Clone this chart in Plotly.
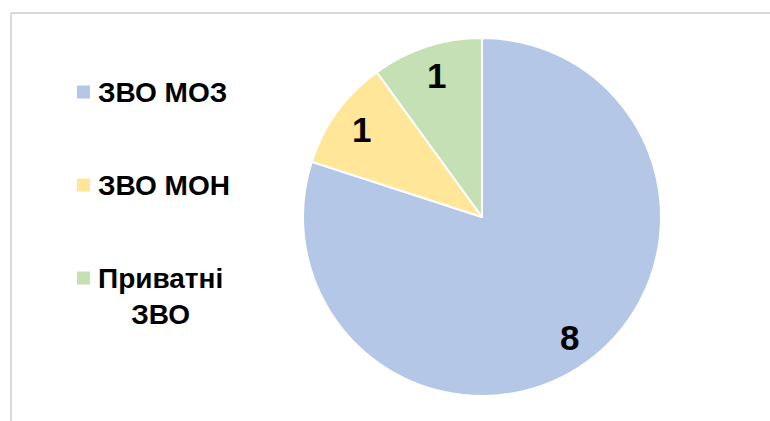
import math
import plotly.graph_objects as go

# ---- data ----
labels = ["ЗВО МОЗ", "ЗВО МОН", "Приватні ЗВО"]
legend_text = ["ЗВО МОЗ", "ЗВО МОН", "Приватні<br>ЗВО"]
values = [8, 1, 1]
colors = ["#B4C7E7", "#FFE699", "#C5E0B4"]

W, H = 770, 421
def px(x):
    return x / W
def py(y):
    return 1 - y / H

# pie geometry (pixels)
cx, cy, R = 482, 217, 179
FONT = "Arial, Liberation Sans, sans-serif"

fig = go.Figure(go.Pie(
    labels=labels, values=values, sort=False, direction="clockwise", rotation=0,
    marker=dict(colors=colors, line=dict(color="white", width=2)),
    textinfo="none", hoverinfo="label+value", showlegend=False,
    domain=dict(x=[px(cx - R), px(cx + R)], y=[py(cy + R), py(cy - R)]),
))

annotations = []
shapes = []

# data labels at ~0.84 R along each slice's mid-angle
total = sum(values)
cum = 0
for v in values:
    mid = (cum + v / 2) / total * 2 * math.pi
    cum += v
    r = 0.83 * R
    x = cx + r * math.sin(mid)
    y = cy - r * math.cos(mid)
    annotations.append(dict(
        x=px(x), y=py(y), xref="paper", yref="paper", text=f"<b>{v}</b>",
        showarrow=False, xanchor="center", yanchor="middle",
        font=dict(family=FONT, size=35, color="black")))

# custom legend
leg_y = [92, 185, 278]
for i, (t, c) in enumerate(zip(legend_text, colors)):
    yc = leg_y[i]
    shapes.append(dict(type="rect", xref="paper", yref="paper",
                       x0=px(77), x1=px(90), y0=py(yc + 6.5), y1=py(yc - 6.5),
                       fillcolor=c, line=dict(width=0)))
    annotations.append(dict(
        x=px(96), y=py(yc - 17), xref="paper", yref="paper", text=f"<b>{t}</b>",
        showarrow=False, xanchor="left", yanchor="top", align="center",
        font=dict(family=FONT, size=28, color="black")))

# chart frame
shapes.append(dict(type="line", xref="paper", yref="paper", x0=px(11), x1=1.01,
                   y0=py(13), y1=py(13), line=dict(color="#D9D9D9", width=2)))
shapes.append(dict(type="line", xref="paper", yref="paper", x0=px(11), x1=px(11),
                   y0=py(13), y1=-0.01, line=dict(color="#D9D9D9", width=2)))

fig.update_layout(
    width=W, height=H, margin=dict(l=0, r=0, t=0, b=0),
    paper_bgcolor="white", plot_bgcolor="white",
    annotations=annotations, shapes=shapes,
)
fig.write_html("out.html", config={"displayModeBar": False},
               post_script="document.body.style.margin='0px';")
